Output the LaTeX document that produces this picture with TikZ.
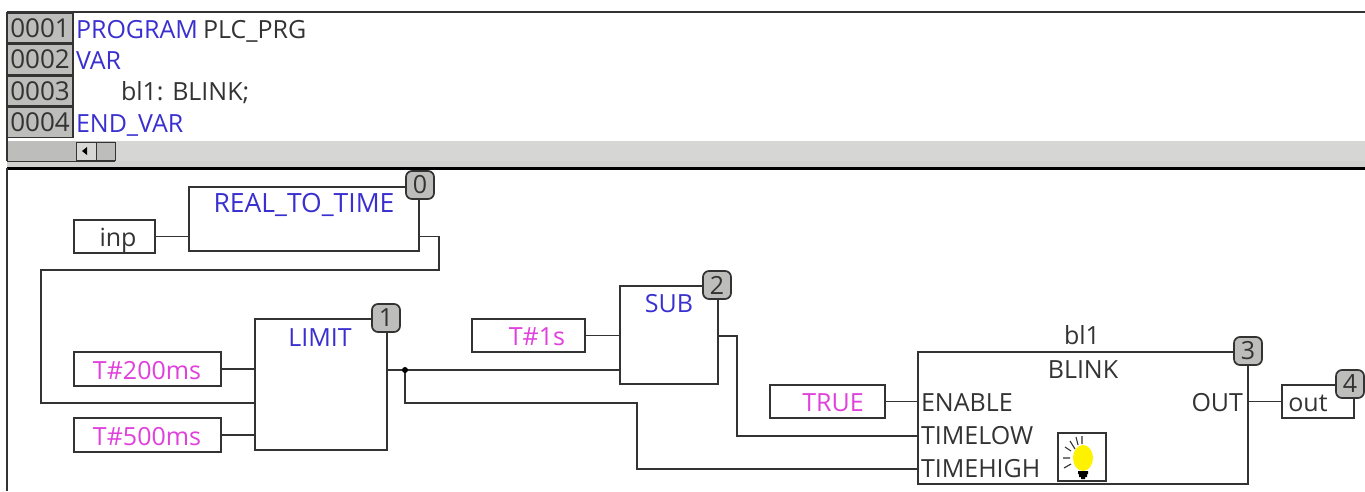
\documentclass[tikz,border=0pt]{standalone}
\usepackage{fontspec}
\setmainfont{Open Sans}
\definecolor{ink}{HTML}{333333}
\definecolor{kw}{HTML}{3A30D0}
\definecolor{lit}{HTML}{E040DC}
\definecolor{band}{HTML}{BDBDBB}
\definecolor{hatch}{HTML}{D6D6D4}
\tikzset{
  wire/.style={draw=ink,line width=1.7pt},
  fbox/.style={draw=ink,line width=1.7pt,fill=white,inner sep=0pt,outer sep=0pt},
  badge/.style={draw=ink,line width=1.7pt,fill=band,rounded corners=6pt,minimum width=28pt,minimum height=28pt,inner sep=0pt,font=\fontsize{25}{25}\selectfont,text=ink},
  txt/.style={inner sep=0pt,outer sep=0pt,font=\fontsize{25}{28}\selectfont,text=ink,anchor=base},
  kwt/.style={txt,text=kw},
  litt/.style={txt,text=lit},
  lnum/.style={draw=ink,line width=1.2pt,fill=band,minimum width=66pt,minimum height=30pt,inner sep=0pt,font=\fontsize{26}{28}\selectfont,text=ink},
  code/.style={txt,anchor=base west},
}
\begin{document}
\begin{tikzpicture}[x=1pt,y=-1pt]
\useasboundingbox (0,0) rectangle (1365,491);
\fill[white] (0,0) rectangle (1365,491);
% editor frame
\fill[band] (7,141) rectangle (115,161);
\fill[hatch] (115,141) rectangle (1365,161);
\fill[band!70!white] (7,161) rectangle (1365,168);
\draw[ink,line width=1.7pt] (7,12) -- (1365,12);
\draw[ink,line width=1.4pt] (7,161.5) -- (115,161.5);
\draw[black,line width=2.2pt] (7,168.5) -- (1365,168.5);
\draw[ink,line width=2pt] (7,12) -- (7,161);
\draw[ink,line width=2pt] (7,168) -- (7,491);
\node[lnum] (n1) at (40,28) {0001};
\node[lnum] (n2) at (40,59.5) {0002};
\node[lnum] (n3) at (40,91) {0003};
\node[lnum] (n4) at (40,122.5) {0004};
\node[code,text=kw] (c1a) at (76,38) {PROGRAM};
\node[code] (c1b) at (203,38) {PLC\_PRG};
\node[code,text=kw] (c2) at (76,69) {VAR};
\node[code] (c3) at (121,100) {bl1: BLINK;};
\node[code,text=kw] (c4) at (76,132) {END\_VAR};
% scrollbar arrow buttons
\draw[fill=band!60!white,draw=ink,line width=1pt] (76,142) rectangle (96,160);
\draw[fill=band,draw=ink,line width=1pt] (96,142) rectangle (115,160);
\fill[black] (82,151) -- (87,147) -- (87,155) -- cycle;
% boxes
\node[fbox,minimum width=230pt,minimum height=64pt] (rt) at (304,219) {};
\node[fbox,minimum width=81pt,minimum height=33pt] (inp) at (114.5,236.5) {};
\node[fbox,minimum width=132pt,minimum height=131pt] (lim) at (321,384.5) {};
\node[fbox,minimum width=147pt,minimum height=34pt] (t200) at (147.5,369) {};
\node[fbox,minimum width=147pt,minimum height=34pt] (t500) at (147.5,435) {};
\node[fbox,minimum width=98pt,minimum height=98pt] (sub) at (669,335) {};
\node[fbox,minimum width=113pt,minimum height=33pt] (t1s) at (528.5,335.5) {};
\node[fbox,minimum width=330pt,minimum height=132pt] (blink) at (1083,418) {};
\node[fbox,minimum width=115pt,minimum height=33pt] (tru) at (827.5,401.5) {};
\node[fbox,minimum width=72pt,minimum height=33pt] (outv) at (1318,401.5) {};
% routing points
\coordinate (rtout) at (rt.east |- inp.east);
\coordinate (r1) at (439,236.5);
\coordinate (r2) at (439,270);
\coordinate (r3) at (41,270);
\coordinate (r4) at (41,403);
\coordinate (limin) at (lim.west |- r4);
\coordinate (limout) at (387,370);
\coordinate (subin2) at (sub.west |- limout);
\coordinate (junc) at (405,370);
\coordinate (b1) at (405,403);
\coordinate (b2) at (637,403);
\coordinate (b3) at (637,469);
\coordinate (tl) at (blink.west |- b3);
\coordinate (s1) at (718,336);
\coordinate (s2) at (737,336);
\coordinate (s3) at (737,436);
\coordinate (s4) at (blink.west |- s3);
% connectors
\draw[wire] (inp.east) -- (rt.west |- inp.east);
\draw[wire] (rtout) -- (r1) -- (r2) -- (r3) -- (r4) -- (limin);
\draw[wire] (t200.east) -- (lim.west |- t200.east);
\draw[wire] (t500.east) -- (lim.west |- t500.east);
\draw[wire] (limout) -- (subin2);
\draw[wire] (junc) -- (b1) -- (b2) -- (b3) -- (tl);
\fill[black] (junc) circle (3pt);
\draw[wire] (t1s.east) -- (sub.west |- t1s.east);
\draw[wire] (s1) -- (s2) -- (s3) -- (s4);
\draw[wire] (tru.east) -- (blink.west |- tru.east);
\draw[wire] (blink.east |- tru.east) -- (outv.west);
% box texts
\node[kwt,font=\fontsize{26.5}{28}\selectfont] (rtt) at (304,212) {REAL\_TO\_TIME};
\node[txt] (inpt) at (118,246) {inp};
\node[kwt] (limt) at (320,346) {LIMIT};
\node[litt] (t200t) at (147,379) {T\#200ms};
\node[litt] (t500t) at (147,445) {T\#500ms};
\node[kwt] (subt) at (669,312) {SUB};
\node[litt] (t1st) at (537,345) {T\#1s};
\node[txt] (blt) at (1082,344) {bl1};
\node[txt] (blinkt) at (1083,378) {BLINK};
\node[litt] (trut) at (833,411) {TRUE};
\node[txt,anchor=base west] (en) at (921,411) {ENABLE};
\node[txt,anchor=base west] (tlo) at (921,444) {TIMELOW};
\node[txt,anchor=base west] (thi) at (921,477) {TIMEHIGH};
\node[txt,anchor=base east] (ot) at (1243,411) {OUT};
\node[txt] (outt) at (1308,411) {out};
% badges
\node[badge] (b0) at (420,185) {0};
\node[badge] (bb1) at (386,318) {1};
\node[badge] (bb2) at (717,285) {2};
\node[badge] (bb3) at (1248,351) {3};
\node[badge] (bb4) at (1350,384) {4};
% lamp
\node[fbox,minimum width=48pt,minimum height=48pt] (lamp) at (1082,457) {};
\fill[yellow] (1083,458) ellipse (10pt and 13pt);
\fill[black] (1078,471) rectangle (1088,474) (1079,474) rectangle (1087,477) (1081,477) rectangle (1085,479);
\draw[ink,line width=1.1pt]
  (1063,458) -- (1070,458)
  (1064,468) -- (1071,464)
  (1065,447) -- (1071,451)
  (1070,441) -- (1075,449)
  (1076,437) -- (1078,445)
  (1082,436) -- (1082,444);
\end{tikzpicture}
\end{document}
